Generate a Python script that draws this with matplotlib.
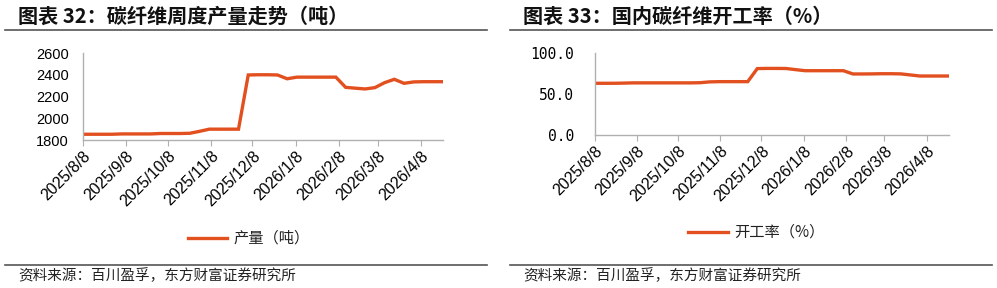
import matplotlib
matplotlib.use("Agg")
import matplotlib.pyplot as plt
import matplotlib.dates as mdates
from matplotlib.lines import Line2D
import pandas as pd

plt.rcParams['font.family'] = ['Liberation Sans', 'Noto Sans CJK SC', 'DejaVu Sans']

# weekly dates (Fridays)
dates = pd.date_range('2025-08-08', periods=38, freq='7D')

# carbon fiber weekly output (tons)
output = [1853, 1853, 1853, 1853, 1856, 1856, 1856, 1856, 1860, 1860,
          1860, 1862, 1880, 1900, 1900, 1900, 1900, 2400, 2402, 2402,
          2400, 2365, 2380, 2380, 2380, 2380, 2380, 2286, 2278, 2271,
          2283, 2329, 2360, 2323, 2336, 2338, 2338, 2338]

# domestic carbon fiber operating rate (%)
rate = [63.3, 63.3, 63.3, 63.5, 63.8, 63.8, 63.8, 63.8, 63.8, 63.8,
        63.8, 64.0, 65.0, 65.3, 65.3, 65.3, 65.3, 81.3, 81.5, 81.5,
        81.4, 80.0, 78.7, 78.7, 78.7, 78.7, 78.7, 74.7, 74.7, 74.8,
        75.0, 75.0, 74.8, 73.5, 72.2, 72.2, 72.2, 72.2]

titles = ['图表 32：碳纤维周度产量走势（吨）', '图表 33：国内碳纤维开工率（%）']
legend_labels = ['产量（吨）', '开工率（%）']
source = '资料来源：百川盈孚，东方财富证券研究所'

W, H = 997, 288
line_color = '#E2501F'
axis_color = '#B0B0B0'
rule_color = '#555555'
cjk = ['Noto Sans CJK SC', 'DejaVu Sans']

fig = plt.figure(figsize=(W / 100, H / 100), dpi=100)


def px(x, y):
    return x / W, 1 - y / H


def hrule(x0, x1, y):
    (a, b), (c, _) = px(x0, y), px(x1, y)
    fig.add_artist(Line2D([a, c], [b, b], transform=fig.transFigure,
                          color=rule_color, lw=1.2))


def date_fmt(d, pos=None):
    d = mdates.num2date(d)
    return f'{d.year}/{d.month}/{d.day}'


def style_axes(ax, ypad):
    for s in ['top', 'right']:
        ax.spines[s].set_visible(False)
    for s in ['left', 'bottom']:
        ax.spines[s].set_color(axis_color)
        ax.spines[s].set_linewidth(1.0)
    ax.xaxis.set_major_locator(mdates.MonthLocator(bymonthday=8))
    ax.xaxis.set_major_formatter(plt.FuncFormatter(date_fmt))
    ax.tick_params(axis='x', length=4, color=axis_color, labelsize=11.5, pad=2)
    ax.tick_params(axis='y', length=0, labelsize=10.5, pad=ypad)
    for lab in ax.get_xticklabels():
        lab.set_rotation(45)
        lab.set_ha('right')
        lab.set_va('top')
        lab.set_rotation_mode('anchor')
    ax.set_xlim(dates[0], dates[-1])


# left panel
l, b = px(82.7, 140)
ax1 = fig.add_axes([l, b, (443 - 82.7) / W, 86.7 / H])
ax1.plot(dates, output, color=line_color, lw=2.4, solid_joinstyle='miter')
ax1.set_ylim(1800, 2600)
ax1.set_yticks([1800, 2000, 2200, 2400, 2600])
style_axes(ax1, 10)

# right panel
l, b = px(594.7, 135)
ax2 = fig.add_axes([l, b, (948.6 - 594.7) / W, 81.7 / H])
ax2.plot(dates, rate, color=line_color, lw=2.4, solid_joinstyle='miter')
ax2.set_ylim(0, 100)
ax2.set_yticks([0, 50, 100])
ax2.set_yticklabels(['0.0', '50.0', '100.0'], family='DejaVu Sans Mono',
                    fontsize=10)
style_axes(ax2, 15)

# titles, rules, legends, source
for x0, x1, tx, title in [(5, 487, 18, titles[0]), (510, 992, 523, titles[1])]:
    fig.text(*px(tx, 16), title, family=cjk, fontsize=14.5, fontweight='bold',
             va='center', ha='left', color='#111111')
    hrule(x0, x1, 29.5)
    hrule(x0, x1, 265)
    fig.text(*px(tx, 276), source, family=cjk, fontsize=10.5, va='center',
             ha='left', color='#222222')

for (x0, x1, y), lab in zip([(188, 227, 238), (688, 728, 232)], legend_labels):
    (a, yy), (c, _) = px(x0, y), px(x1, y)
    fig.add_artist(Line2D([a, c], [yy, yy], transform=fig.transFigure,
                          color=line_color, lw=2.4))
    fig.text(*px(x1 + 6, y), lab, family=cjk, fontsize=11, va='center',
             ha='left', color='#222222')

fig.savefig('out.png', dpi=100)
